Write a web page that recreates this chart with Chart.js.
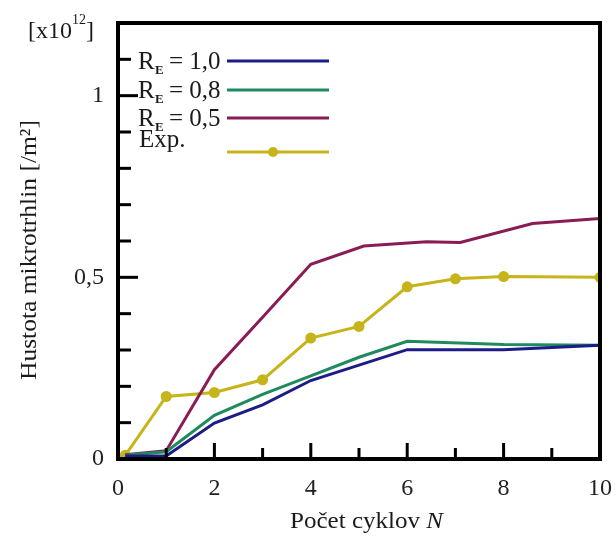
<!DOCTYPE html>
<html>
<head>
<meta charset="utf-8">
<script src="https://cdn.jsdelivr.net/npm/chart.js@4.4.1/dist/chart.umd.min.js"></script>
<style>
  html, body { margin: 0; padding: 0; background: #fff; }
  #wrap { width: 616px; height: 539px; }
</style>
</head>
<body>
<div id="wrap"><canvas id="myChart" width="616" height="539"></canvas></div>
<script>
// hodnoty odčítané z grafu (x = počet cyklov, y = hustota x10^12 /m2)
const xRe10 = [0.15, 1, 2, 3, 4, 6, 8, 10];
const yRe10 = [0.008, 0.008, 0.099, 0.149, 0.216, 0.301, 0.301, 0.313];

const xRe08 = [0.15, 1, 2, 3, 4, 5, 6, 8, 10];
const yRe08 = [0.01, 0.02, 0.12, 0.178, 0.229, 0.28, 0.324, 0.315, 0.313];

const xRe05 = [0.15, 1, 2, 3, 4, 5.1, 6.4, 7.1, 8.6, 10];
const yRe05 = [0.012, 0.023, 0.246, 0.39, 0.536, 0.586, 0.598, 0.596, 0.648, 0.662];

const xExp = [0.15, 1, 2, 3, 4, 5, 6, 7, 8, 10];
const yExp = [0.01, 0.172, 0.183, 0.218, 0.333, 0.365, 0.474, 0.496, 0.502, 0.5];

const legendLabels = ['1,0', '0,8', '0,5', 'Exp.'];
const yTickLabels = { 0: '0', 5: '0,5', 10: '1' };

const BLUE = '#1d1b86';
const GREEN = '#1f8a5e';
const PURPLE = '#8a1c54';
const YELLOW = '#c6b41a';
const SERIF = '"Liberation Serif", "DejaVu Serif", serif';

function pts(xs, ys) {
  return xs.map((x, i) => ({ x: x, y: ys[i] }));
}

// text natiahnutý na zadanú šírku
function fitText(ctx, text, cx, y, width) {
  const w = ctx.measureText(text).width;
  ctx.save();
  ctx.translate(cx, y);
  ctx.scale(width / w, 1);
  ctx.textAlign = 'center';
  ctx.fillText(text, 0, 0);
  ctx.restore();
}

// rám, vnútorné značky, legenda a popisy osí
const decorations = {
  id: 'decorations',
  afterDatasetsDraw(chart) {
    const ctx = chart.ctx;
    const a = chart.chartArea;
    const xs = chart.scales.x;
    const ys = chart.scales.y;
    ctx.save();
    ctx.strokeStyle = '#000';
    ctx.lineWidth = 3;
    ctx.lineCap = 'butt';
    // značky na osi x
    for (let i = 1; i < 10; i++) {
      const px = xs.getPixelForValue(i);
      const len = i % 2 === 0 ? 16 : 11;
      ctx.beginPath();
      ctx.moveTo(px, a.bottom);
      ctx.lineTo(px, a.bottom - len);
      ctx.stroke();
    }
    // značky na osi y
    for (let i = 1; i < 12; i++) {
      const py = ys.getPixelForValue(i / 10);
      const len = i % 5 === 0 ? 20 : 13;
      ctx.beginPath();
      ctx.moveTo(a.left, py);
      ctx.lineTo(a.left + len, py);
      ctx.stroke();
    }
    // rám
    ctx.lineWidth = 4;
    ctx.strokeRect(a.left, a.top, a.right - a.left, a.bottom - a.top);

    // legenda
    const colors = [BLUE, GREEN, PURPLE, YELLOW];
    const lineY = [61, 90, 118, 152];
    const textY = [69, 98, 126, 147];
    ctx.fillStyle = '#1a1a1a';
    ctx.textBaseline = 'alphabetic';
    ctx.textAlign = 'left';
    for (let i = 0; i < 4; i++) {
      if (i < 3) {
        ctx.font = '25px ' + SERIF;
        ctx.fillText('R', 138, textY[i]);
        ctx.font = 'bold 13px ' + SERIF;
        ctx.fillText('E', 155, textY[i] + 5);
        ctx.font = '25px ' + SERIF;
        ctx.fillText('= ' + legendLabels[i], 169, textY[i]);
      } else {
        ctx.font = '25px ' + SERIF;
        ctx.fillText(legendLabels[i], 139, textY[i]);
      }
      ctx.strokeStyle = colors[i];
      ctx.lineWidth = 3;
      ctx.beginPath();
      ctx.moveTo(227, lineY[i]);
      ctx.lineTo(329, lineY[i]);
      ctx.stroke();
    }
    ctx.fillStyle = YELLOW;
    ctx.beginPath();
    ctx.arc(273, lineY[3], 5, 0, Math.PI * 2);
    ctx.fill();

    // jednotka
    ctx.fillStyle = '#1a1a1a';
    ctx.font = '24px ' + SERIF;
    ctx.fillText('[x10', 28, 38);
    ctx.font = '14px ' + SERIF;
    ctx.fillText('12', 72, 24);
    ctx.font = '24px ' + SERIF;
    ctx.fillText(']', 86, 38);

    // popis osi x
    ctx.font = '23px ' + SERIF;
    const t1 = 'Počet cyklov ';
    let w1 = ctx.measureText(t1).width;
    ctx.font = 'italic 23px ' + SERIF;
    let w2 = ctx.measureText('N').width;
    const k = 153 / (w1 + w2);
    ctx.save();
    ctx.translate(290, 528);
    ctx.scale(k, 1);
    ctx.font = '23px ' + SERIF;
    ctx.fillText(t1, 0, 0);
    ctx.font = 'italic 23px ' + SERIF;
    ctx.fillText('N', w1, 0);
    ctx.restore();

    // popis osi y
    ctx.translate(36, 250);
    ctx.rotate(-Math.PI / 2);
    ctx.font = '23px ' + SERIF;
    fitText(ctx, 'Hustota mikrotrhlin [/m²]', 0, 0, 260);
    ctx.restore();
  }
};

const ctx = document.getElementById('myChart').getContext('2d');
const myChart = new Chart(ctx, {
  type: 'line',
  data: {
    datasets: [
      { label: 'RE= 1,0', data: pts(xRe10, yRe10), borderColor: BLUE, borderWidth: 3, pointRadius: 0 },
      { label: 'RE= 0,8', data: pts(xRe08, yRe08), borderColor: GREEN, borderWidth: 3, pointRadius: 0 },
      { label: 'RE= 0,5', data: pts(xRe05, yRe05), borderColor: PURPLE, borderWidth: 3, pointRadius: 0 },
      { label: 'Exp.', data: pts(xExp, yExp), borderColor: YELLOW, backgroundColor: YELLOW,
        borderWidth: 3, pointRadius: 5.5, pointBorderWidth: 0 }
    ]
  },
  options: {
    responsive: false,
    animation: false,
    layout: { padding: { top: 23, right: 16, left: 0, bottom: 0 } },
    plugins: { legend: { display: false }, tooltip: { enabled: false } },
    scales: {
      x: {
        type: 'linear',
        min: 0,
        max: 10,
        grid: { display: false, drawTicks: false },
        border: { display: false },
        afterFit: (s) => { s.height = 80; s.paddingLeft = 0; s.paddingRight = 0; },
        ticks: {
          stepSize: 1,
          padding: 15,
          color: '#222',
          font: { family: SERIF, size: 24 },
          callback: (v) => (v % 2 === 0 ? String(v) : '')
        }
      },
      y: {
        min: 0,
        max: 1.2,
        grid: { display: false, drawTicks: false },
        border: { display: false },
        afterFit: (s) => { s.width = 118; s.paddingTop = 0; s.paddingBottom = 0; },
        ticks: {
          stepSize: 0.1,
          padding: 14,
          color: '#222',
          font: { family: SERIF, size: 24 },
          callback: (v) => {
            const k = Math.round(v * 10);
            return yTickLabels[k] !== undefined ? yTickLabels[k] : '';
          }
        }
      }
    }
  },
  plugins: [decorations]
});
</script>
</body>
</html>
